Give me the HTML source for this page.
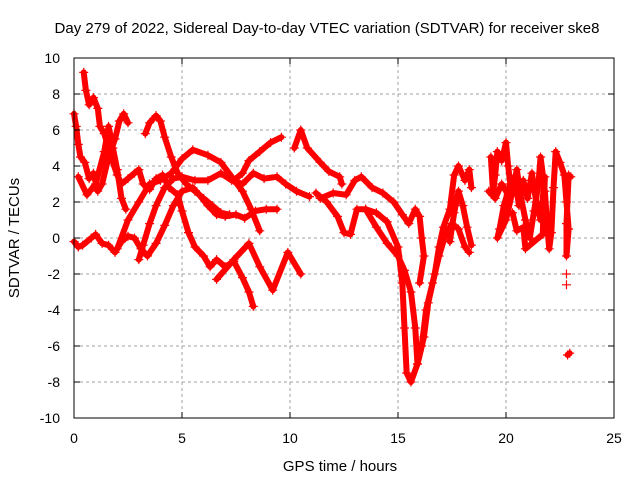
<!DOCTYPE html>
<html><head><meta charset="utf-8"><style>
body{margin:0;background:#fff}
svg{display:block;font-family:"Liberation Sans",sans-serif}
</style></head><body>
<svg id="chart" width="640" height="480" viewBox="0 0 640 480">
<rect width="640" height="480" fill="#fff"/>
<text x="327" y="33" font-size="15" text-anchor="middle">Day 279 of 2022, Sidereal Day-to-day VTEC variation (SDTVAR) for receiver ske8</text>
<text x="340" y="471" font-size="15" text-anchor="middle">GPS time / hours</text>
<text transform="translate(19,238) rotate(-90)" font-size="15" text-anchor="middle">SDTVAR / TECUs</text>
<g id="grid"></g>
<g id="series"></g>
<rect x="74" y="58" width="540" height="360" fill="none" stroke="#000" stroke-width="1"/>
<g id="axes"></g>
</svg>
<script>
const xTicks = [0, 5, 10, 15, 20, 25];
const yTicks = [-10, -8, -6, -4, -2, 0, 2, 4, 6, 8, 10];
const track1 = [[0,6.9],[0.1,6.2],[0.2,5.2],[0.3,4.5],[0.5,4.2],[0.7,3.3],[0.9,3.6],[1.1,2.6],[1.3,3],[1.6,4.5],[1.9,5.5],[2.1,6.5],[2.3,6.9],[2.5,6.4]];
const track2 = [[0.45,9.2],[0.55,8.2],[0.7,7.4],[0.9,7.8],[1.1,7.2],[1.2,6.2],[1.4,5.8],[1.6,5],[1.8,4.2],[2.0,3.5],[2.2,3],[2.5,3.3],[2.8,3.6],[3.0,3.8],[3.2,3.0],[3.5,2.7],[3.8,3.3],[4.1,3.5],[4.4,2.8],[4.8,2.4],[5.0,1.5],[5.3,0.3],[5.6,-0.5],[6.0,-1.0],[6.3,-1.6],[6.6,-1.2],[7.0,-1.6],[7.4,-1.3],[7.8,-2.2],[8.1,-3.0],[8.3,-3.8]];
const track3 = [[0,-0.2],[0.2,-0.5],[0.4,-0.4],[0.8,0],[1,0.2],[1.3,-0.3],[1.6,-0.4],[1.9,-0.8],[2.2,-0.2],[2.5,0.1],[2.8,0],[3.1,-0.6],[3.4,-1],[3.8,-0.3],[4.2,0.7],[4.6,1.8],[5,2.6],[5.5,2.8],[5.8,2.4],[6.2,1.8],[6.6,1.3],[7.0,1.2],[7.5,1.3],[7.9,1.1],[8.4,1.5],[8.9,1.6],[9.4,1.6]];
const track4 = [[2.0,-0.6],[2.5,1],[3,2],[3.5,3],[4,3.2],[4.5,3.6],[5,4.4],[5.5,4.9],[6.2,4.6],[6.8,4.2],[7.3,3.4],[7.8,2.6],[8.2,1.6],[8.6,0.4]];
const track5 = [[3.3,5.8],[3.5,6.4],[3.8,6.8],[4.0,6.5],[4.2,5.6],[4.5,4.5],[4.8,3.6],[5.2,3],[5.6,2.6],[6,2.2],[6.4,1.8],[6.8,1.4],[7.2,1.3]];
const track6 = [[3.0,-1.2],[3.2,-0.4],[3.5,0.8],[3.8,1.8],[4.2,2.8],[4.6,3.3],[5.0,3.4],[5.6,3.2],[6.2,3.2],[6.8,3.6],[7.3,3.2],[7.8,3.0],[8.3,3.6],[8.8,3.3],[9.4,3.4],[9.8,3.0],[10.3,2.6],[10.9,2.3]];
const track7 = [[7.4,3.2],[7.8,3.6],[8.1,4.3],[8.6,4.8],[9.1,5.3],[9.6,5.6]];
const track8 = [[6.6,-2.3],[7.4,-1.2],[8.1,-0.3],[8.6,-1.6],[9.2,-2.9],[9.9,-0.8],[10.5,-2]];
const track9 = [[10.2,5],[10.5,6],[10.8,5],[11.4,4.2],[11.8,3.7],[12.3,3.4],[12.4,3.0]];
const track10 = [[11.2,2.5],[11.7,2.0],[12.2,1.2],[12.5,0.3],[12.8,0.2],[13.1,1.6],[13.5,1.6],[14,1.4],[14.5,0.9],[15,-0.5],[15.2,-2.5],[15.3,-5],[15.4,-7.5],[15.6,-8],[15.9,-7],[16.2,-5.5],[16.4,-3.6],[16.7,-2],[16.9,-0.5],[17.1,0.6],[17.4,1.6],[17.6,3.5],[17.8,4],[18.1,3.2],[18.3,3.8],[18.4,2.8]];
const track11 = [[11.4,2.2],[12,2.5],[12.6,2.4],[13,3.2],[13.3,3.4],[13.8,2.8],[14.3,2.5],[14.8,2.0],[15.2,1.3],[15.5,0.8],[15.8,1.6],[16.0,1.2],[16.1,0],[16.2,-1],[16.0,-2.5]];
const track12 = [[13.5,1.6],[14,0.6],[14.5,-0.3],[15.0,-1.0],[15.3,-1.8],[15.6,-3],[15.8,-5],[15.9,-7],[16.1,-6],[16.3,-4],[16.6,-2.5],[16.9,-1],[17.2,0.2],[17.5,0.8],[17.8,0.5],[18.1,-0.5],[18.3,-0.8]];
const track13 = [[19.3,4.5],[19.4,2.5],[19.5,3.5],[19.6,4.8],[19.8,4.3],[20,5.3],[20.1,4],[20.2,3],[19.9,1.8],[19.7,0.5],[19.6,0],[20.0,1.0],[20.3,2.6],[20.5,3.8],[20.7,2.2],[20.9,1],[21.1,0],[21.3,1.5],[21.5,3],[21.6,4.5],[21.8,2.6],[21.9,0.8],[22,-0.6],[22.1,0.3],[22.2,2.8],[22.3,4.8],[22.5,4.2],[22.7,3.5],[22.8,2],[22.9,0.5],[22.8,-1],[22.8,0.8],[22.9,3.5],[23.0,3.4]];
const track16 = [[19.2,2.6],[19.5,2.2],[19.8,3.0],[20.1,2.4],[20.4,3.4],[20.6,1.8],[20.8,3.2],[21.0,2.2],[21.2,3.6],[21.4,2.0],[21.6,1.0],[21.8,3.4],[21.7,0.2],[20.9,-0.6],[20.8,0.6],[20.5,0.4],[20.3,1.4]];
const track17 = [[17.4,-0.2],[17.6,1.4],[17.8,2.6],[18.0,1.8],[18.2,0.6],[18.4,-0.4]];
const track18 = [[0.2,3.4],[0.6,2.4],[1.0,3.0],[1.4,4.8],[1.6,6.2],[1.8,5.0],[2.0,3.8],[2.2,2.2],[2.4,1.6]];
const track14 = [[22.8,-2],[22.8,-2.6]];
const track15 = [[22.85,-6.5],[22.95,-6.4]];
const tracks = [track1,track2,track3,track4,track5,track6,track7,track8,track9,track10,track11,track12,track13,track16,track17,track18,track15];
const singles = track14;

const NS = "http://www.w3.org/2000/svg";
const X0 = 74, X1 = 614, Y0 = 418, Y1 = 58;
function xs(t){ return X0 + (t - 0) / 25 * (X1 - X0); }
function ys(v){ return Y0 - (v + 10) / 20 * (Y0 - Y1); }
function mk(tag, attrs, parent){ const e = document.createElementNS(NS, tag); for (const k in attrs) e.setAttribute(k, attrs[k]); parent.appendChild(e); return e; }

const grid = document.getElementById('grid'), axes = document.getElementById('axes'), series = document.getElementById('series');
xTicks.forEach(t => {
  const x = xs(t);
  if (t > 0 && t < 25) {
    const g = mk('line', {x1:x, x2:x, y1:Y1, y2:Y0, stroke:'#a0a0a0', 'stroke-dasharray':'3,3'}, grid);
    
    
  }
  mk('line', {x1:x, x2:x, y1:Y0, y2:Y0-6, stroke:'#000'}, axes);
  mk('line', {x1:x, x2:x, y1:Y1, y2:Y1+6, stroke:'#000'}, axes);
  const lb = mk('text', {x:x, y:443, 'font-size':14, 'text-anchor':'middle'}, axes);
  lb.textContent = t;
  
  
});
yTicks.forEach(v => {
  const y = ys(v);
  if (v > -10 && v < 10) {
    const g = mk('line', {x1:X0, x2:X1, y1:y, y2:y, stroke:'#a0a0a0', 'stroke-dasharray':'3,3'}, grid);
    
    
  }
  mk('line', {x1:X0, x2:X0+6, y1:y, y2:y, stroke:'#000'}, axes);
  mk('line', {x1:X1, x2:X1-6, y1:y, y2:y, stroke:'#000'}, axes);
  const lb = mk('text', {x:60, y:y+5, 'font-size':14, 'text-anchor':'end'}, axes);
  lb.textContent = v;
  
  
});
function plus(t, v){
  const x = xs(t), y = ys(v);
  const p = mk('path', {d:`M${x-4.5},${y}H${x+4.5}M${x},${y-4.5}V${y+4.5}`, stroke:'#f00', 'stroke-width':1.2}, series);
  
  
}
tracks.forEach(tr => {
  const pl = mk('polyline', {points: tr.map(p => xs(p[0]) + ',' + ys(p[1])).join(' '), fill:'none', stroke:'#f00', 'stroke-width':6, 'stroke-linejoin':'round', 'stroke-linecap':'round'}, series);
  
  
  tr.forEach(p => plus(p[0], p[1]));
});
singles.forEach(p => plus(p[0], p[1]));
</script>
</body></html>
